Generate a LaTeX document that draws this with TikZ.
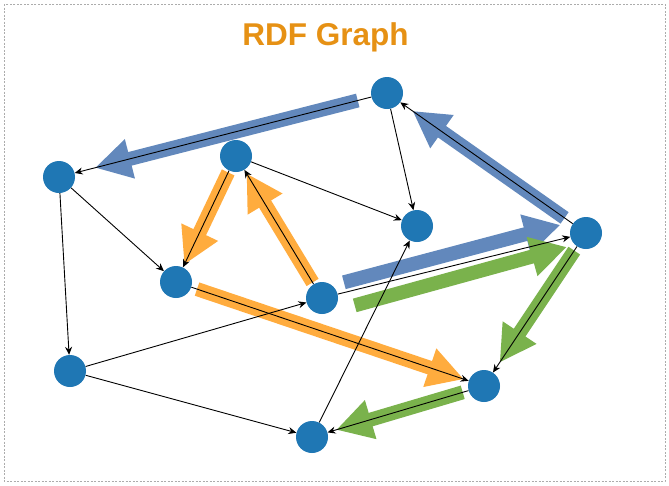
\documentclass[tikz,border=0pt]{standalone}
\usepackage{fontspec}
\setmainfont{Liberation Sans}
\usetikzlibrary{arrows.meta,calc}
\definecolor{nodeblue}{RGB}{31,119,180}
\definecolor{hlblue}{RGB}{98,136,188}
\definecolor{hlorange}{RGB}{255,172,62}
\definecolor{hlgreen}{RGB}{122,178,76}
\definecolor{titleorange}{RGB}{230,145,20}

\begin{document}
\begin{tikzpicture}[x=1pt,y=-1pt,
  vertex/.style={circle,minimum size=32pt,inner sep=0pt},
  edge/.style={-{Stealth[length=8pt,width=7pt]},line width=0.9pt,black},
  hl/.style={line width=14pt,-{Triangle[length=36pt,width=38pt]}}]
\useasboundingbox (0,0) rectangle (669,485);
\fill[white] (0,0) rectangle (669,485);
\draw[gray!65,line width=0.8pt,dash pattern=on 2pt off 1.5pt] (4,4) rectangle (665,481);
\node[font=\bfseries\fontsize{31.5}{36}\selectfont,text=titleorange,anchor=base] (title) at (325.5,45) {RDF Graph};

% vertices
\node[vertex] (a) at (387,93) {};
\node[vertex] (b) at (59,177) {};
\node[vertex] (c) at (236,156) {};
\node[vertex] (d) at (417,226) {};
\node[vertex] (e) at (586,233) {};
\node[vertex] (f) at (176,282) {};
\node[vertex] (g) at (322,298) {};
\node[vertex] (h) at (70,371) {};
\node[vertex] (i) at (484,386) {};
\node[vertex] (j) at (312,437) {};

% highlighted paths
\draw[hl,hlblue,shorten <=14pt,shorten >=21pt] (a) -- (b);
\draw[hl,hlblue,shorten <=10pt,shorten >=15pt] (e) -- (a);
\draw[hl,hlorange,shorten <=2pt,shorten >=4pt] (g) -- (c);
\draw[hl,hlorange,shorten <=2pt,shorten >=3pt] (c) -- (f);
\draw[hl,hlorange,shorten <=6pt,shorten >=5pt] (f) -- (i);
\draw[hl,hlgreen,shorten <=5pt,shorten >=12pt] (e) -- (i);
\draw[hl,hlgreen,shorten <=6pt,shorten >=9pt] (i) -- (j);

\coordinate (bluetail) at ($(g)!25pt!(e)!10pt!90:(e)$);
\coordinate (bluetip) at ($(e)!23pt!(g)!14pt!-90:(g)$);
\coordinate (greentail) at ($(g)!30pt!(e)!15pt!-90:(e)$);
\coordinate (greentip) at ($(e)!22pt!(g)!9pt!90:(g)$);
\draw[hl,hlblue] (bluetail) -- (bluetip);
\draw[hl,hlgreen] (greentail) -- (greentip);

% edges
\foreach \u/\v in {a/b,a/d,e/a,c/d,c/f,g/c,b/f,b/h,f/i,h/g,h/j,j/d,g/e,e/i,i/j}
  \draw[edge] (\u) -- (\v);

\foreach \n in {a,b,c,d,e,f,g,h,i,j}
  \fill[nodeblue] (\n) circle (16pt);

\end{tikzpicture}
\end{document}
